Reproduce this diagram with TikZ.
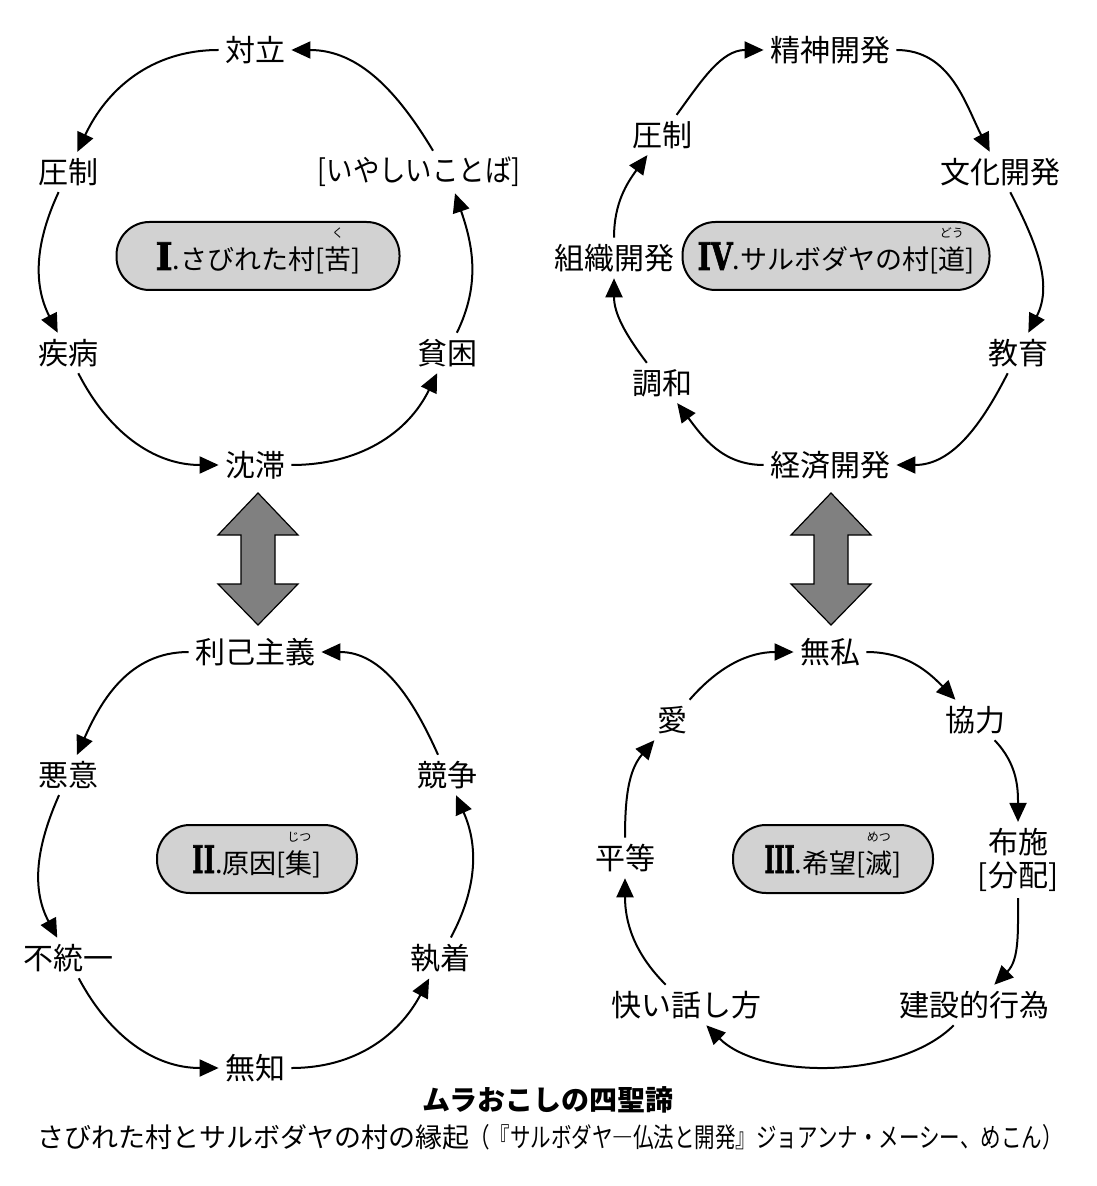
\documentclass[tikz,border=0pt]{standalone}
\usepackage{fontspec}
\usepackage{graphicx}
\setmainfont{Noto Sans CJK JP}
\newfontfamily\numfont{DejaVu Serif Bold}[FakeBold=2]
\usetikzlibrary{arrows.meta}
\newcommand{\furigana}[2]{\leavevmode\ooalign{#1\cr\hidewidth\smash{\raisebox{16pt}{\fontsize{6pt}{6pt}\selectfont #2}}\hidewidth\cr}}
\newcommand{\numeral}[2]{\resizebox{#1}{\height}{\fontsize{19pt}{19pt}\numfont #2}}

\begin{document}
\begin{tikzpicture}[x=0.5pt, y=0.5pt,
    >={Triangle[length=9.5pt, width=8.5pt]},
    word/.style={font=\fontsize{15pt}{16.5pt}\selectfont, inner sep=3pt, align=center},
    stage/.style={draw, line width=1pt, fill=gray!35, rounded corners=16.5pt, minimum height=34pt,
      text height=16pt, text depth=2pt, font=\fontsize{13.5pt}{16pt}\selectfont},
    flow/.style={->, line width=1pt},
    bothway/.style={draw, line width=0.6pt, fill=gray}]
    \useasboundingbox (0,0) rectangle (1096,-1186);
    % I. the run-down village
    \node[word] (tairitsu) at (255,-50) {対立};
    \node[word] (assei) at (68,-172) {圧制};
    \node[word] (kotoba) at (419,-172) {\scalebox{0.88}[1]{[いやしいことば]}};
    \node[word] (shippei) at (68,-353) {疾病};
    \node[word] (hinkon) at (447,-353) {貧困};
    \node[word] (chintai) at (255,-465) {沈滞};
    \node[stage, minimum width=141.5pt] (kurushimi) at (258,-256) {\numeral{8.5pt}{I}.さびれた村[\furigana{苦}{く}]};
    % IV. the sarvodaya village
    \node[word] (seishin) at (830,-50) {精神開発};
    \node[word] (bunka) at (1000,-172) {文化開発};
    \node[word] (kyoiku) at (1018,-353) {教育};
    \node[word] (keizai) at (830,-465) {経済開発};
    \node[word] (chowa) at (662,-383) {調和};
    \node[word] (soshiki) at (614,-258) {組織開発};
    \node[word] (assei2) at (662,-135) {圧制};
    \node[stage, minimum width=153.5pt] (michi) at (836,-256) {\numeral{17.5pt}{IV}.サルボダヤの村[\furigana{道}{どう}]};
    % II. the cause
    \node[word] (rikoshugi) at (255,-652) {利己主義};
    \node[word] (akui) at (68,-775) {悪意};
    \node[word] (kyoso) at (447,-775) {競争};
    \node[word] (futoitsu) at (68,-958) {不統一};
    \node[word] (shuchaku) at (440,-958) {執着};
    \node[word] (muchi) at (255,-1068) {無知};
    \node[stage, minimum width=100pt] (jitsu) at (257,-859) {\numeral{11.5pt}{II}.原因[\furigana{集}{じつ}]};
    % III. the hope
    \node[word] (mushi) at (830,-652) {無私};
    \node[word] (kyoryoku) at (975,-720) {協力};
    \node[word] (fuse) at (1018,-860) {布施\\\relax[分配]};
    \node[word] (kensetsu) at (974,-1005) {建設的行為};
    \node[word] (kokoroyoi) at (686,-1005) {快い話し方};
    \node[word] (byodo) at (625,-858) {平等};
    \node[word] (ai) at (672,-720) {愛};
    \node[stage, minimum width=100pt] (metsu) at (833,-859) {\numeral{15pt}{III}.希望[\furigana{滅}{めつ}]};
    % caption
    \node[font=\fontsize{14pt}{16pt}\selectfont\bfseries] (title) at (548,-1100) {ムラおこしの四聖諦};
    \node[font=\fontsize{13.5pt}{16pt}\selectfont] (source) at (550,-1137)
      {さびれた村とサルボダヤの村の縁起\scalebox{0.76}[1]{（『サルボダヤ―仏法と開発』ジョアンナ・メーシー、めこん）}};
    % the cycles
    \path[flow]
    (tairitsu) edge[out=180, in=65] (assei)
    (assei) edge[out=245, in=117] (shippei)
    (shippei) edge[out=297, in=180] (chintai)
    (chintai) edge[out=0, in=244] (hinkon)
    (hinkon) edge[out=64, in=-71] ([xshift=18pt]kotoba.south)
    ([xshift=7pt]kotoba.north) edge[out=121, in=0] (tairitsu);
    \path[flow]
    (seishin) edge[out=0, in=117] (bunka)
    (bunka) edge[out=-63, in=63] (kyoiku)
    (kyoiku) edge[out=243, in=0] (keizai)
    (keizai) edge[out=180, in=307] (chowa)
    (chowa) edge[out=127, in=270] (soshiki)
    (soshiki) edge[out=90, in=234] (assei2)
    (assei2) edge[out=54, in=180] (seishin);
    \path[flow]
    (rikoshugi) edge[out=180, in=66] (akui)
    (akui) edge[out=246, in=118] (futoitsu)
    (futoitsu) edge[out=298, in=180] (muchi)
    (muchi) edge[out=0, in=242] (shuchaku)
    (shuchaku) edge[out=62, in=-66] (kyoso)
    (kyoso) edge[out=114, in=0] (rikoshugi);
    \path[flow]
    (mushi) edge[out=0, in=134] (kyoryoku)
    (kyoryoku) edge[out=-46, in=90] (fuse)
    (fuse) edge[out=-90, in=45] (kensetsu)
    (kensetsu) edge[out=225, in=315, looseness=0.8] (kokoroyoi)
    (kokoroyoi) edge[out=135, in=270] (byodo)
    (byodo) edge[out=90, in=229] (ai)
    (ai) edge[out=49, in=180] (mushi);
    % the two-way arrows
    \foreach \ax in {258,831}
    \draw[bothway] (\ax,-493) -- ++(40,-42) -- ++(-23,0) -- ++(0,-49) -- ++(23,0) -- ++(-40,-41)
      -- ++(-40,41) -- ++(23,0) -- ++(0,49) -- ++(-23,0) -- cycle;
\end{tikzpicture}
\end{document}
